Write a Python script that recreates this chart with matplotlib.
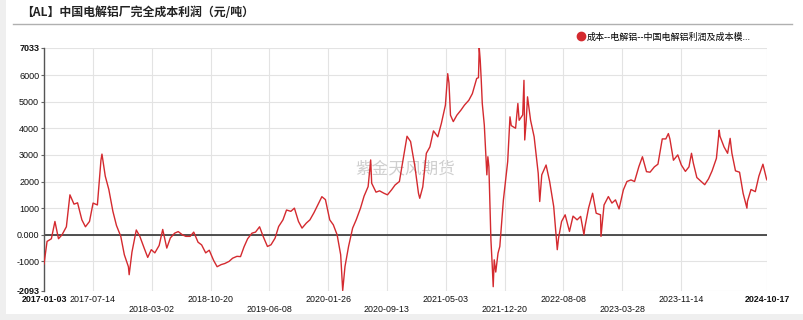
import matplotlib
matplotlib.use("Agg")
import matplotlib.pyplot as plt
from matplotlib.lines import Line2D
from matplotlib.patches import Rectangle
import pandas as pd

plt.rcParams['font.family'] = ['Liberation Sans', 'Noto Sans CJK SC', 'DejaVu Sans']

title = "【AL】中国电解铝厂完全成本利润（元/吨）"
series_name = "成本--电解铝--中国电解铝利润及成本模..."
watermark = "紫金天风期货"

# profit values (元/吨)
dates_2017 = ["2017-01-03", "2017-01-15", "2017-02-01", "2017-02-15", "2017-03-01", "2017-03-15",
              "2017-04-01", "2017-04-15", "2017-05-01", "2017-05-15", "2017-06-01", "2017-06-15",
              "2017-07-01", "2017-07-15", "2017-08-01", "2017-08-15", "2017-08-19", "2017-09-01",
              "2017-09-15", "2017-10-01", "2017-10-15", "2017-11-01", "2017-11-15", "2017-12-01",
              "2017-12-04", "2017-12-15"]
values_2017 = [-1100, -250, -150, 500, -150, 0, 300, 1500, 1150, 1200, 560, 300,
               500, 1190, 1120, 2800, 3030, 2200, 1700, 880, 350, -60, -750, -1200,
               -1500, -650]

dates_2018 = ["2018-01-01", "2018-01-15", "2018-02-01", "2018-02-15", "2018-03-01", "2018-03-15",
              "2018-04-01", "2018-04-15", "2018-05-01", "2018-05-15", "2018-06-01", "2018-06-15",
              "2018-07-01", "2018-07-15", "2018-08-01", "2018-08-15", "2018-09-01", "2018-09-15",
              "2018-10-01", "2018-10-15", "2018-11-01", "2018-11-15", "2018-12-01", "2018-12-15"]
values_2018 = [180, -60, -500, -850, -560, -680, -400, 200, -500, -120, 60, 120,
               0, -60, -60, 100, -280, -380, -680, -580, -960, -1200, -1120, -1080]

dates_2019 = ["2019-01-01", "2019-01-15", "2019-02-01", "2019-02-15", "2019-03-01", "2019-03-15",
              "2019-04-01", "2019-04-15", "2019-05-01", "2019-05-15", "2019-06-01", "2019-06-15",
              "2019-07-01", "2019-07-15", "2019-08-01", "2019-08-15", "2019-09-01", "2019-09-15",
              "2019-10-01", "2019-10-15", "2019-11-01", "2019-11-15", "2019-12-01", "2019-12-15"]
values_2019 = [-1000, -880, -810, -820, -450, -150, 60, 100, 300, -60, -440, -375,
               -125, 310, 560, 930, 880, 1000, 500, 250, 440, 560, 830, 1100]

dates_2020 = ["2020-01-01", "2020-01-15", "2020-02-01", "2020-02-15", "2020-03-01", "2020-03-15",
              "2020-03-23", "2020-04-01", "2020-04-15", "2020-05-01", "2020-05-15", "2020-06-01",
              "2020-06-15", "2020-07-01", "2020-07-11", "2020-07-15", "2020-08-01", "2020-08-15",
              "2020-09-01", "2020-09-15", "2020-10-01", "2020-10-15", "2020-11-01", "2020-11-15",
              "2020-12-01", "2020-12-15"]
values_2020 = [1430, 1320, 560, 375, 0, -750, -2093, -1190, -440, 250, 560, 1000,
               1450, 1810, 2810, 1935, 1600, 1650, 1560, 1500, 1685, 1870, 2000, 2800,
               3700, 3500]

dates_2021 = ["2021-01-01", "2021-01-15", "2021-01-20", "2021-02-01", "2021-02-15", "2021-03-01",
              "2021-03-15", "2021-04-01", "2021-04-15", "2021-05-01", "2021-05-10", "2021-05-15",
              "2021-05-21", "2021-06-01", "2021-06-15", "2021-07-01", "2021-07-15", "2021-08-01",
              "2021-08-15", "2021-09-01", "2021-09-08", "2021-09-11", "2021-09-15", "2021-09-19",
              "2021-09-23", "2021-10-01", "2021-10-11", "2021-10-15", "2021-10-19", "2021-10-23",
              "2021-10-27", "2021-11-01", "2021-11-05", "2021-11-09", "2021-11-15", "2021-11-24",
              "2021-12-01", "2021-12-15"]
values_2021 = [2560, 1560, 1370, 1800, 3060, 3300, 3900, 3680, 4180, 4870, 6050, 5700,
               4490, 4250, 4490, 4680, 4870, 5050, 5300, 5870, 5900, 7033, 6550, 5800,
               4930, 4120, 2250, 2930, 2560, 1185, -190, -1120, -1950, -940, -1400, -690,
               -440, 1300]

dates_2022 = ["2022-01-01", "2022-01-10", "2022-01-15", "2022-02-01", "2022-02-10", "2022-02-15",
              "2022-03-01", "2022-03-06", "2022-03-09", "2022-03-15", "2022-03-20", "2022-04-01",
              "2022-04-15", "2022-05-01", "2022-05-07", "2022-05-15", "2022-06-01", "2022-06-15",
              "2022-07-01", "2022-07-15", "2022-07-20", "2022-08-01", "2022-08-15", "2022-09-01",
              "2022-09-15", "2022-10-01", "2022-10-15", "2022-10-28", "2022-11-01", "2022-11-15",
              "2022-12-01", "2022-12-15"]
values_2022 = [2750, 4430, 4100, 4000, 4930, 4300, 4500, 5800, 3560, 4300, 5180, 4300,
               3680, 2310, 1250, 2250, 2620, 2000, 1060, -560, -125, 500, 750, 125,
               700, 560, 690, 0, 300, 1000, 1560, 810]

dates_2023 = ["2023-01-01", "2023-01-03", "2023-01-15", "2023-02-01", "2023-02-15", "2023-03-01",
              "2023-03-15", "2023-04-01", "2023-04-15", "2023-05-01", "2023-05-15", "2023-06-01",
              "2023-06-15", "2023-07-01", "2023-07-15", "2023-08-01", "2023-08-15", "2023-09-01",
              "2023-09-15", "2023-09-25", "2023-10-01", "2023-10-15", "2023-11-01", "2023-11-15",
              "2023-12-01", "2023-12-15", "2023-12-25"]
values_2023 = [750, -60, 1120, 1435, 1190, 1310, 970, 1685, 2000, 2060, 2000, 2560,
               2930, 2370, 2350, 2550, 2650, 3600, 3600, 3800, 3600, 2800, 3000, 2620,
               2380, 2550, 3060]

dates_2024 = ["2024-01-01", "2024-01-15", "2024-02-01", "2024-02-15", "2024-03-01", "2024-03-15",
              "2024-04-01", "2024-04-12", "2024-04-15", "2024-05-01", "2024-05-15", "2024-05-25",
              "2024-06-01", "2024-06-15", "2024-07-01", "2024-07-15", "2024-07-30", "2024-08-01",
              "2024-08-15", "2024-09-01", "2024-09-15", "2024-10-01", "2024-10-15", "2024-10-17"]
values_2024 = [2700, 2150, 2000, 1880, 2100, 2400, 2870, 3930, 3700, 3300, 3060, 3620,
               3060, 2400, 2350, 1560, 1000, 1250, 1700, 1620, 2200, 2650, 2100, 2060]

tick_dates = ["2017-01-03", "2017-07-14", "2018-03-02", "2018-10-20", "2019-06-08", "2020-01-26",
              "2020-09-13", "2021-05-03", "2021-12-20", "2022-08-08", "2023-03-28", "2023-11-14",
              "2024-10-17"]
tick_row = [1, 1, 2, 1, 2, 1, 2, 1, 2, 1, 2, 1, 1]
y_ticks = [-2093, -1000, 0, 1000, 2000, 3000, 4000, 5000, 6000, 7033]
y_labels = ["-2093", "-1000", "0.000", "1000", "2000", "3000", "4000", "5000", "6000", "7033"]

dates = pd.to_datetime(dates_2017 + dates_2018 + dates_2019 + dates_2020 +
                       dates_2021 + dates_2022 + dates_2023 + dates_2024)
values = values_2017 + values_2018 + values_2019 + values_2020 + \
    values_2021 + values_2022 + values_2023 + values_2024

W, H = 804, 320
fig = plt.figure(figsize=(W / 100, H / 100), dpi=100, facecolor="#efefef")
fig.patches.append(Rectangle((6 / W, 6 / H), 1 - 6 / W, 1 - 6 / H,
                             transform=fig.transFigure, facecolor="white",
                             edgecolor="none", zorder=-10))

# title + underline
fig.text(21 / W, 1 - 13 / H, title, fontsize=8.6, fontweight="bold",
         family=["Noto Sans CJK SC"], va="center", ha="left", color="#222222")
fig.add_artist(Line2D([13 / W, 792 / W], [1 - 24 / H] * 2, color="#b0b0b0", lw=1))

ax = fig.add_axes([44 / W, 1 - 290.5 / H, (767 - 44) / W, (290.5 - 47.5) / H])
ax.set_zorder(1)
ax.set_facecolor("white")
ax.plot(dates, values, color="#d42a2f", lw=1.0, zorder=3, label=series_name)

ax.set_xlim(pd.Timestamp("2017-01-03"), pd.Timestamp("2024-10-17"))
ax.set_ylim(-2093, 7033)

ax.set_yticks(y_ticks)
ax.set_yticklabels(y_labels)
ax.axhline(0, color="#333333", lw=1.2, zorder=2)

labels = [d if r == 1 else "\n" + d for d, r in zip(tick_dates, tick_row)]
ax.set_xticks(pd.to_datetime(tick_dates))
ax.set_xticklabels(labels)

ax.grid(True, color="#e3e3e3", lw=0.8, zorder=0)
ax.tick_params(axis="x", length=0, pad=3, labelsize=6.4, labelcolor="#111111")
ax.tick_params(axis="y", length=2, pad=1.5, labelsize=6.5, labelcolor="#111111", color="#666666")
for i in (0, len(tick_dates) - 1):
    ax.get_xticklabels()[i].set_fontweight("bold")
for i in (0, len(y_ticks) - 1):
    ax.get_yticklabels()[i].set_fontweight("bold")

for s in ("top", "right", "bottom"):
    ax.spines[s].set_visible(False)
ax.spines["left"].set_color("#555555")
ax.spines["left"].set_linewidth(1)

# watermark
ax.text(0.5, 0.5, watermark, transform=ax.transAxes, fontsize=12, color="#cfcfcf",
        family=["Noto Sans CJK SC"], ha="center", va="center", zorder=1)

handle = Line2D([], [], marker="o", color="#d42a2f", linestyle="none", markersize=6)
fig.legend([handle], [series_name], loc="center left",
           bbox_to_anchor=(573 / W, 1 - 37 / H), bbox_transform=fig.transFigure,
           frameon=False, borderpad=0, handlelength=0.8,
           handletextpad=0.2, prop={"family": ["Noto Sans CJK SC"], "size": 6.5})

fig.savefig("out.png", dpi=100, facecolor=fig.get_facecolor())
